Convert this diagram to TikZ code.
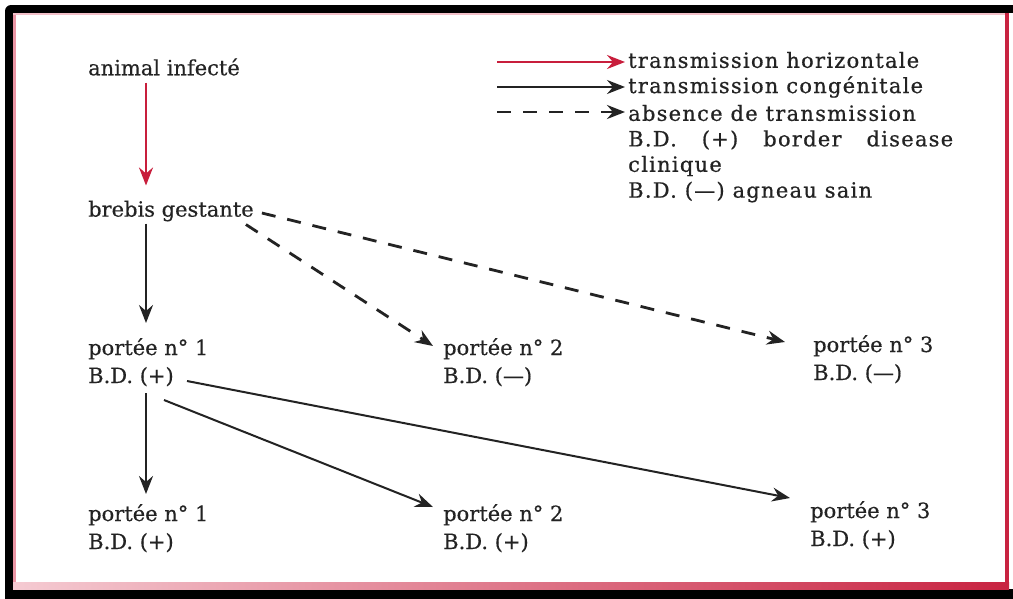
\documentclass[tikz,border=0pt]{standalone}
\usepackage{fontspec}
\setmainfont{DejaVu Serif}
\usetikzlibrary{arrows.meta,calc}
\definecolor{frameRed}{RGB}{200,35,65}
\definecolor{framePink}{RGB}{235,150,165}
\definecolor{arrowRed}{RGB}{200,30,60}
\definecolor{inkGrey}{RGB}{35,35,35}
\begin{document}
\begin{tikzpicture}[x=1pt,y=-1pt,
  lbl/.style={inner sep=0pt, text=inkGrey, font=\fontsize{21}{28}\selectfont\addfontfeatures{FakeBold=0.4}, align=left},
  leg/.style={inner sep=0pt, anchor=west, text=inkGrey, font=\fontsize{21}{26}\selectfont\addfontfeatures{LetterSpace=6,FakeBold=0.6}},
  tip/.style={-{Stealth[length=18pt,width=14pt,inset=6pt]}},
  redarrow/.style={tip, draw=arrowRed, fill=arrowRed, line width=2.2pt},
  blackarrow/.style={tip, draw=inkGrey, line width=2pt},
  dasharrow/.style={tip, draw=inkGrey, line width=2.8pt, dash pattern=on 14pt off 12pt}
]
\useasboundingbox (0,0) rectangle (1013,598);
% frame
\fill[black, rounded corners=6pt] (5,5) rectangle (1040,610);
\fill[white] (13,13) rectangle (1013,589);
\fill[framePink] (13,13) rectangle (16,589);
\fill[framePink!60] (13,13) rectangle (1005,15);
\fill[frameRed] (1005,13) rectangle (1009,589);
\shade[left color=framePink!50, right color=frameRed] (13,582) rectangle (1009,589);
\fill[white] (16,15) rectangle (1005,582);

% column coordinate
\coordinate (c1) at (146,0);

% nodes
\node[lbl, anchor=west] (animal) at (88,67) {animal infecté};
\node[lbl, anchor=west] (brebis) at (88,211) {brebis gestante};
\node[lbl, anchor=north west] (p1a) at (88,338) {portée n° 1\\B.D. (+)};
\node[lbl, anchor=north west] (p2a) at (443,338) {portée n° 2\\B.D. (—)};
\node[lbl, anchor=north west] (p3a) at (813,335) {portée n° 3\\B.D. (—)};
\node[lbl, anchor=north west] (p1b) at (88,504) {portée n° 1\\B.D. (+)};
\node[lbl, anchor=north west] (p2b) at (443,504) {portée n° 2\\B.D. (+)};
\node[lbl, anchor=north west] (p3b) at (810,501) {portée n° 3\\B.D. (+)};

% legend
\node[leg] (leg1) at (628,60) {transmission horizontale};
\node[leg] (leg2) at (628,87) {transmission congénitale};
\node[leg] (leg3) at (628,113) {absence de transmission};
\node[leg] (leg4) at (628,140) {\makebox[325pt][s]{B.D. (+) border disease}};
\node[leg] (leg5) at (628,166) {clinique};
\node[leg] (leg6) at (628,192) {B.D. (—) agneau sain};
\coordinate (s1) at (497,62);
\coordinate (s2) at (497,87);
\coordinate (s3) at (497,112);
\draw[redarrow] (s1) -- ($(leg1.west)+(-3,2)$);
\draw[blackarrow] (s2) -- ($(leg2.west)+(-3,0)$);
\draw[dasharrow] (s3) -- ($(leg3.west)+(-3,-1)$);

% connectors
\draw[redarrow] ($(animal.south -| c1)+(0,7)$) -- ($(brebis.north -| c1)+(0,-15)$);
\draw[blackarrow] ($(brebis.south -| c1)+(0,2)$) -- ($(p1a.north -| c1)+(0,-15)$);
\draw[blackarrow] ($(p1a.north west)+(58,55)$) -- ($(p1b.north -| c1)+(0,-10)$);
\draw[dasharrow] ($(brebis.east)+(8,2)$) -- ($(p3a.north west)+(-28,7)$);
\draw[dasharrow] ($(brebis.south east)+(-8,3)$) -- ($(p2a.north west)+(-10,8)$);
\draw[blackarrow] ($(p1a.north west)+(99,43)$) -- ($(p3b.north west)+(-20,-3)$);
\draw[blackarrow] ($(p1a.north west)+(76,62)$) -- ($(p2b.north west)+(-10,3)$);
\end{tikzpicture}
\end{document}
